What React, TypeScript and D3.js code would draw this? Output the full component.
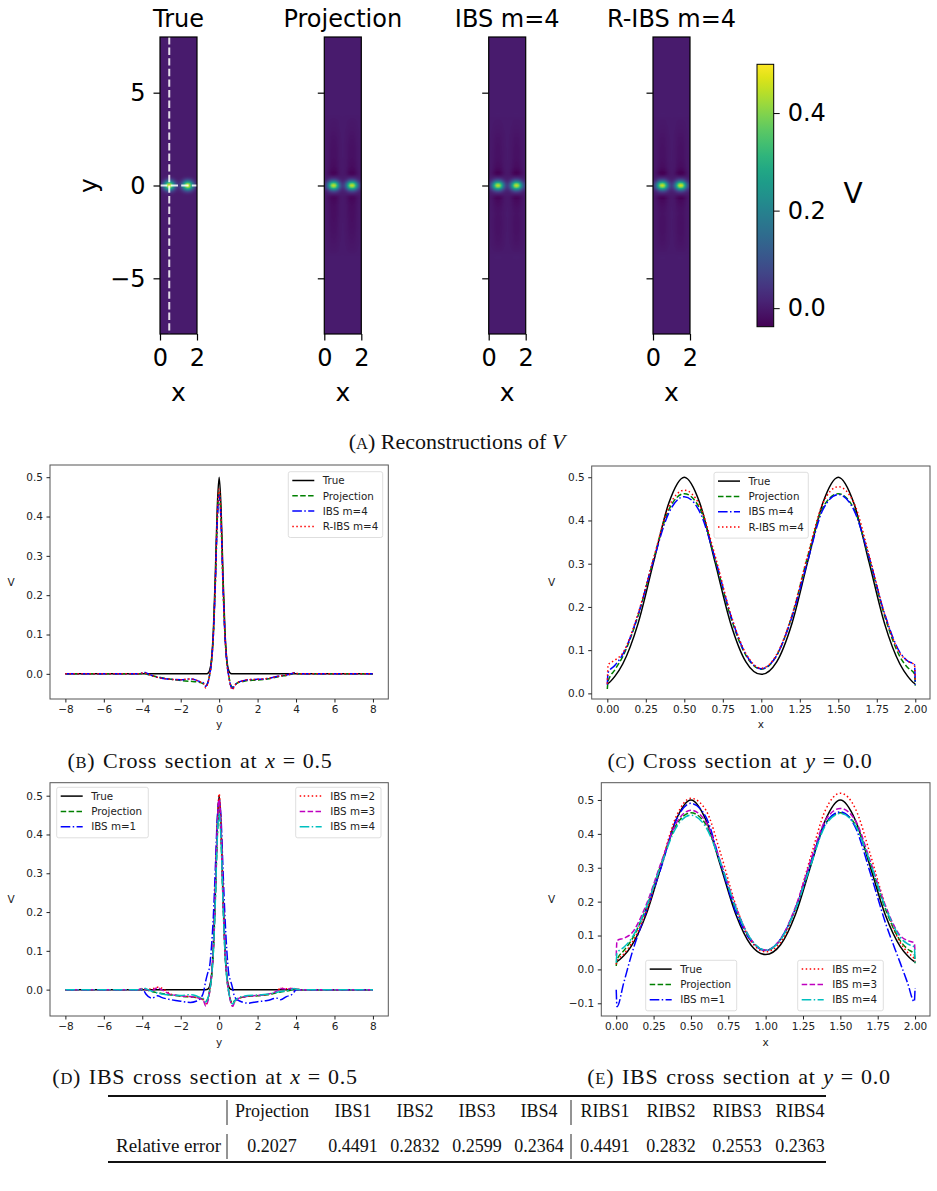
"use client";

import * as d3 from "d3";
import { useEffect, useRef } from "react";

// cross sections along y at x = 0.5
const ys = [-8, -4.2, -4, -3.9, -3.8, -3.5, -3.2, -3, -2.5, -2, -1.5, -1.2, -1, -0.8, -0.7, -0.6, -0.5, -0.4, -0.3, -0.2, -0.1, 0, 0.1, 0.2, 0.3, 0.4, 0.5, 0.6, 0.7, 0.8, 1, 1.2, 1.5, 2, 2.5, 3, 3.2, 3.5, 3.8, 3.9, 4, 4.2, 8];
const trueY = [0, 0, 0, 0, 0, 0, 0, 0, 0, 0, 0, 0, 0, 0, 0, 0.001, 0.008, 0.035, 0.11, 0.25, 0.42, 0.5, 0.42, 0.25, 0.11, 0.035, 0.008, 0.001, 0, 0, 0, 0, 0, 0, 0, 0, 0, 0, 0, 0, 0, 0, 0];
const projY = [0, 0, 0.001, 0.002, 0, -0.005, -0.008, -0.01, -0.014, -0.017, -0.019, -0.02, -0.022, -0.026, -0.03, -0.024, -0.004, 0.03, 0.1, 0.23, 0.39, 0.462, 0.39, 0.23, 0.1, 0.03, -0.005, -0.028, -0.034, -0.029, -0.022, -0.02, -0.017, -0.016, -0.013, -0.008, -0.006, -0.004, 0, 0.002, 0.001, 0, 0];
const ibs1Y = [0, 0, 0, -0.004, -0.012, -0.022, -0.016, -0.02, -0.026, -0.03, -0.033, -0.03, -0.024, -0.004, 0.022, 0.042, 0.058, 0.11, 0.19, 0.31, 0.44, 0.49, 0.44, 0.31, 0.19, 0.1, 0.04, 0.022, 0.004, -0.018, -0.028, -0.032, -0.035, -0.031, -0.028, -0.022, -0.026, -0.018, -0.012, -0.006, 0, 0, 0];
const ibs2Y = [0, 0, 0.002, 0.003, 0.001, 0.002, 0.006, 0.004, -0.012, -0.016, -0.018, -0.02, -0.022, -0.028, -0.04, -0.03, -0.006, 0.035, 0.11, 0.25, 0.42, 0.505, 0.42, 0.25, 0.11, 0.035, -0.006, -0.03, -0.042, -0.032, -0.022, -0.02, -0.017, -0.015, -0.013, -0.005, 0.004, 0.002, 0.003, 0.002, 0.001, 0, 0];
const ibs3Y = [0, 0, 0.003, 0.002, 0, -0.002, 0.005, 0, -0.013, -0.016, -0.018, -0.02, -0.023, -0.03, -0.042, -0.032, -0.007, 0.033, 0.105, 0.245, 0.41, 0.49, 0.41, 0.245, 0.105, 0.033, -0.007, -0.032, -0.043, -0.033, -0.023, -0.02, -0.017, -0.015, -0.012, -0.004, 0.003, 0.001, 0.003, 0.002, 0.001, 0, 0];
const ibs4Y = [0, 0, 0.002, 0.004, 0.002, -0.004, -0.009, -0.011, -0.014, -0.015, -0.013, -0.016, -0.02, -0.024, -0.032, -0.024, -0.004, 0.03, 0.1, 0.225, 0.385, 0.455, 0.385, 0.225, 0.1, 0.03, -0.006, -0.03, -0.037, -0.03, -0.021, -0.018, -0.015, -0.014, -0.012, -0.007, -0.005, -0.003, 0.001, 0.003, 0.001, 0, 0];
const ribs4Y = [0, 0, 0.002, 0.003, 0.001, -0.004, -0.009, -0.011, -0.014, -0.015, -0.013, -0.016, -0.02, -0.025, -0.036, -0.026, -0.005, 0.03, 0.1, 0.23, 0.395, 0.47, 0.395, 0.23, 0.1, 0.03, -0.007, -0.032, -0.04, -0.031, -0.021, -0.018, -0.015, -0.014, -0.012, -0.007, -0.005, -0.003, 0.001, 0.003, 0.001, 0, 0];

// cross sections along x at y = 0
const xs = [0, 0.005, 0.05, 0.1, 0.2, 0.3, 0.4, 0.5, 0.6, 0.7, 0.8, 0.9, 1, 1.1, 1.2, 1.3, 1.4, 1.5, 1.6, 1.7, 1.8, 1.9, 1.95, 1.995, 2];
const trueX = [0.022, 0.023, 0.04, 0.068, 0.162, 0.303, 0.441, 0.5, 0.441, 0.303, 0.163, 0.073, 0.044, 0.073, 0.163, 0.303, 0.441, 0.5, 0.441, 0.303, 0.162, 0.068, 0.04, 0.023, 0.022];
const projX = [0.01, 0.028, 0.055, 0.085, 0.18, 0.31, 0.425, 0.462, 0.428, 0.31, 0.178, 0.088, 0.056, 0.088, 0.18, 0.315, 0.43, 0.462, 0.428, 0.312, 0.18, 0.085, 0.06, 0.045, 0.018];
const ibs1X = [-0.06, -0.11, -0.04, 0.04, 0.17, 0.3, 0.44, 0.49, 0.45, 0.31, 0.17, 0.085, 0.056, 0.09, 0.18, 0.31, 0.43, 0.465, 0.42, 0.285, 0.14, 0.02, -0.04, -0.095, -0.055];
const ibs2X = [0.015, 0.025, 0.045, 0.075, 0.17, 0.31, 0.45, 0.505, 0.47, 0.34, 0.19, 0.085, 0.052, 0.08, 0.18, 0.33, 0.47, 0.52, 0.475, 0.34, 0.19, 0.08, 0.05, 0.03, 0.02];
const ibs3X = [0.04, 0.085, 0.092, 0.105, 0.19, 0.315, 0.43, 0.47, 0.435, 0.315, 0.185, 0.09, 0.057, 0.09, 0.185, 0.32, 0.44, 0.475, 0.44, 0.32, 0.19, 0.1, 0.085, 0.078, 0.05];
const ibs4X = [0.02, 0.048, 0.065, 0.09, 0.182, 0.308, 0.418, 0.455, 0.42, 0.312, 0.182, 0.09, 0.057, 0.088, 0.178, 0.305, 0.425, 0.46, 0.425, 0.315, 0.185, 0.095, 0.075, 0.066, 0.02];
const ribs4X = [0.022, 0.066, 0.077, 0.093, 0.185, 0.312, 0.432, 0.47, 0.435, 0.318, 0.185, 0.092, 0.058, 0.09, 0.182, 0.318, 0.44, 0.478, 0.442, 0.32, 0.185, 0.093, 0.075, 0.066, 0.03];

const heatTitles = ["True", "Projection", "IBS m=4", "R-IBS m=4"];
const colorDomain = [-0.038, 0.5];
const colorTicks = [0, 0.2, 0.4];

const tableHeads = ["Projection", "IBS1", "IBS2", "IBS3", "IBS4", "RIBS1", "RIBS2", "RIBS3", "RIBS4"];
const tableErrors = ["0.2027", "0.4491", "0.2832", "0.2599", "0.2364", "0.4491", "0.2832", "0.2553", "0.2363"];

const width = 937;
const height = 1191;
const sans = "DejaVu Sans";
const serif = "Liberation Serif";

const solid = null;
const dashed = "5.5,2.4";
const dotted = "1.5,2.5";
const dashdot = "9.6,2.4,1.5,2.4";

type Series = { values: number[]; color: string; dash: string | null; label: string };
type Legend = { x: number; y: number; w: number; items: number[] };
type Panel = {
  left: number; right: number; top: number; bottom: number;
  xDomain: number[]; yDomain: number[];
  xTicks: number[]; yTicks: number[];
  xFormat: (d: number) => string; yFormat: (d: number) => string;
  xLabel: string; xLabelY: number; vX: number;
  grid: number[]; series: Series[]; legends: Legend[];
};

const yT = [0, 0.1, 0.2, 0.3, 0.4, 0.5];

const panels: Panel[] = [
  {
    left: 50, right: 388.3, top: 465, bottom: 699,
    xDomain: [-8.8, 8.8], yDomain: [-0.064, 0.531],
    xTicks: d3.range(-8, 9, 2), yTicks: yT,
    xFormat: d3.format("d"), yFormat: d3.format(".1f"),
    xLabel: "y", xLabelY: 728, vX: 11, grid: ys,
    series: [
      { values: trueY, color: "#000000", dash: solid, label: "True" },
      { values: projY, color: "#008000", dash: dashed, label: "Projection" },
      { values: ibs4Y, color: "#0000ff", dash: dashdot, label: "IBS m=4" },
      { values: ribs4Y, color: "#ff0000", dash: dotted, label: "R-IBS m=4" },
    ],
    legends: [{ x: 288.3, y: 471.7, w: 94.4, items: [0, 1, 2, 3] }],
  },
  {
    left: 591.7, right: 930, top: 466, bottom: 699,
    xDomain: [-0.1014, 2.0955], yDomain: [-0.013, 0.526],
    xTicks: d3.range(0, 2.01, 0.25), yTicks: yT,
    xFormat: d3.format(".2f"), yFormat: d3.format(".1f"),
    xLabel: "x", xLabelY: 728, vX: 551.7, grid: xs,
    series: [
      { values: trueX, color: "#000000", dash: solid, label: "True" },
      { values: projX, color: "#008000", dash: dashed, label: "Projection" },
      { values: ibs4X, color: "#0000ff", dash: dashdot, label: "IBS m=4" },
      { values: ribs4X, color: "#ff0000", dash: dotted, label: "R-IBS m=4" },
    ],
    legends: [{ x: 714, y: 472.3, w: 94.3, items: [0, 1, 2, 3] }],
  },
  {
    left: 50, right: 388.3, top: 782.7, bottom: 1016,
    xDomain: [-8.8, 8.8], yDomain: [-0.068, 0.5335],
    xTicks: d3.range(-8, 9, 2), yTicks: yT,
    xFormat: d3.format("d"), yFormat: d3.format(".1f"),
    xLabel: "y", xLabelY: 1046, vX: 11, grid: ys,
    series: [
      { values: trueY, color: "#000000", dash: solid, label: "True" },
      { values: projY, color: "#008000", dash: dashed, label: "Projection" },
      { values: ibs1Y, color: "#0000ff", dash: dashdot, label: "IBS m=1" },
      { values: ibs2Y, color: "#ff0000", dash: dotted, label: "IBS m=2" },
      { values: ibs3Y, color: "#bf00bf", dash: dashed, label: "IBS m=3" },
      { values: ibs4Y, color: "#00bfbf", dash: dashdot, label: "IBS m=4" },
    ],
    legends: [
      { x: 56.7, y: 787.3, w: 91.6, items: [0, 1, 2] },
      { x: 295.7, y: 787.3, w: 85.3, items: [3, 4, 5] },
    ],
  },
  {
    left: 601.3, right: 930, top: 782.7, bottom: 1016,
    xDomain: [-0.1, 2.1], yDomain: [-0.1375, 0.551],
    xTicks: d3.range(0, 2.01, 0.25), yTicks: [-0.1, 0, 0.1, 0.2, 0.3, 0.4, 0.5],
    xFormat: d3.format(".2f"), yFormat: d3.format(".1f"),
    xLabel: "x", xLabelY: 1046, vX: 551.7, grid: xs,
    series: [
      { values: trueX, color: "#000000", dash: solid, label: "True" },
      { values: projX, color: "#008000", dash: dashed, label: "Projection" },
      { values: ibs1X, color: "#0000ff", dash: dashdot, label: "IBS m=1" },
      { values: ibs2X, color: "#ff0000", dash: dotted, label: "IBS m=2" },
      { values: ibs3X, color: "#bf00bf", dash: dashed, label: "IBS m=3" },
      { values: ibs4X, color: "#00bfbf", dash: dashdot, label: "IBS m=4" },
    ],
    legends: [
      { x: 645.7, y: 960.3, w: 91, items: [0, 1, 2] },
      { x: 797.7, y: 960.3, w: 85.6, items: [3, 4, 5] },
    ],
  },
];

type Sel = d3.Selection<SVGSVGElement, unknown, null, undefined>;

function drawHeatmaps(svg: Sel) {
  const lefts = [160, 324.3, 488.7, 653];
  const w = 37;
  const top = 37;
  const bottom = 334;
  const fields = [
    [trueX, trueY],
    [projX, projY],
    [ibs4X, ibs4Y],
    [ribs4X, ribs4Y],
  ];
  const color = d3.scaleSequential(d3.interpolateViridis).domain(colorDomain as [number, number]);

  fields.forEach(([fx, fy], k) => {
    const x = d3.scaleLinear().domain([0, 2]).range([lefts[k], lefts[k] + w]);
    const y = d3.scaleLinear().domain([-8, 8]).range([bottom, top]);
    const px = d3.scaleLinear().domain(xs).range(fx).clamp(true);
    const py = d3.scaleLinear().domain(ys).range(fy).clamp(true);
    const peak = py(0);

    const W = w * 3;
    const H = Math.round((bottom - top) * 3);
    const canvas = document.createElement("canvas");
    canvas.width = W;
    canvas.height = H;
    const ctx = canvas.getContext("2d")!;
    const img = ctx.createImageData(W, H);
    for (let j = 0; j < H; j++) {
      const yv = y.invert(top + (j + 0.5) / 3);
      const vy = py(yv) / peak;
      for (let i = 0; i < W; i++) {
        const xv = x.invert(lefts[k] + (i + 0.5) / 3);
        const c = d3.rgb(color(px(xv) * vy));
        const o = (j * W + i) * 4;
        img.data[o] = c.r;
        img.data[o + 1] = c.g;
        img.data[o + 2] = c.b;
        img.data[o + 3] = 255;
      }
    }
    ctx.putImageData(img, 0, 0);

    const g = svg.append("g");
    g.append("image")
      .attr("href", canvas.toDataURL())
      .attr("x", lefts[k])
      .attr("y", top)
      .attr("width", w)
      .attr("height", bottom - top)
      .attr("preserveAspectRatio", "none");

    if (k === 0) {
      g.append("line")
        .attr("x1", x(0.5)).attr("x2", x(0.5))
        .attr("y1", top).attr("y2", bottom)
        .attr("stroke", "#ffffff").attr("stroke-opacity", 0.85)
        .attr("stroke-width", 2).attr("stroke-dasharray", "7.4,3.2");
      g.append("line")
        .attr("x1", lefts[k]).attr("x2", lefts[k] + w)
        .attr("y1", y(0)).attr("y2", y(0))
        .attr("stroke", "#ffffff").attr("stroke-opacity", 0.85)
        .attr("stroke-width", 2).attr("stroke-dasharray", "7.4,3.2");
    }

    g.append("rect")
      .attr("x", lefts[k]).attr("y", top)
      .attr("width", w).attr("height", bottom - top)
      .attr("fill", "none").attr("stroke", "#000").attr("stroke-width", 1.2);

    g.append("g")
      .attr("transform", `translate(${lefts[k]},0)`)
      .call(
        d3.axisLeft(y).tickValues([-5, 0, 5]).tickSize(6.5).tickPadding(8)
          .tickFormat((d) => (k === 0 ? d3.format("d")(d as number) : ""))
      )
      .call((a) => a.select(".domain").remove())
      .attr("font-family", sans).attr("font-size", 24).attr("color", "#000")
      .call((a) => a.selectAll("line").attr("stroke-width", 1.2));

    g.append("g")
      .attr("transform", `translate(0,${bottom})`)
      .call(d3.axisBottom(x).tickValues([0, 2]).tickSize(6.5).tickPadding(8).tickFormat(d3.format("d")))
      .call((a) => a.select(".domain").remove())
      .attr("font-family", sans).attr("font-size", 24).attr("color", "#000")
      .call((a) => a.selectAll("line").attr("stroke-width", 1.2));

    g.append("text")
      .attr("x", lefts[k] + w / 2).attr("y", 27)
      .attr("text-anchor", "middle")
      .attr("font-family", sans).attr("font-size", 24)
      .text(heatTitles[k]);

    g.append("text")
      .attr("x", lefts[k] + w / 2).attr("y", 401)
      .attr("text-anchor", "middle")
      .attr("font-family", sans).attr("font-size", 25)
      .text("x");
  });

  svg.append("text")
    .attr("transform", "translate(97,185.7) rotate(-90)")
    .attr("text-anchor", "middle")
    .attr("font-family", sans).attr("font-size", 25)
    .text("y");

  // colorbar
  const cb = { x: 757, w: 16.7, top: 64.3, bottom: 326.7 };
  const cy = d3.scaleLinear().domain(colorDomain).range([cb.bottom, cb.top]);
  const grad = svg.append("defs").append("linearGradient")
    .attr("id", "cbar").attr("x1", 0).attr("y1", 0).attr("x2", 0).attr("y2", 1);
  d3.range(0, 1.0001, 0.05).forEach((o) => {
    grad.append("stop")
      .attr("offset", o)
      .attr("stop-color", color(cy.invert(cb.top + o * (cb.bottom - cb.top))));
  });
  svg.append("rect")
    .attr("x", cb.x).attr("y", cb.top)
    .attr("width", cb.w).attr("height", cb.bottom - cb.top)
    .attr("fill", "url(#cbar)").attr("stroke", "#000").attr("stroke-width", 1);
  svg.append("g")
    .attr("transform", `translate(${cb.x + cb.w},0)`)
    .call(d3.axisRight(cy).tickValues(colorTicks).tickSize(6).tickPadding(8).tickFormat(d3.format(".1f")))
    .call((a) => a.select(".domain").remove())
    .attr("font-family", sans).attr("font-size", 24).attr("color", "#000");
  svg.append("text")
    .attr("x", 853).attr("y", 203)
    .attr("text-anchor", "middle")
    .attr("font-family", sans).attr("font-size", 28)
    .text("V");
}

function drawLinePanel(svg: Sel, p: Panel) {
  const x = d3.scaleLinear().domain(p.xDomain).range([p.left, p.right]);
  const y = d3.scaleLinear().domain(p.yDomain).range([p.bottom, p.top]);
  const g = svg.append("g");

  const line = d3
    .line<[number, number]>()
    .x((d) => x(d[0]))
    .y((d) => y(d[1]))
    .curve(d3.curveMonotoneX);

  p.series.forEach((s) => {
    g.append("path")
      .attr("d", line(p.grid.map((v, i) => [v, s.values[i]] as [number, number])))
      .attr("fill", "none")
      .attr("stroke", s.color)
      .attr("stroke-width", 1.5)
      .attr("stroke-dasharray", s.dash);
  });

  g.append("rect")
    .attr("x", p.left).attr("y", p.top)
    .attr("width", p.right - p.left).attr("height", p.bottom - p.top)
    .attr("fill", "none").attr("stroke", "#555").attr("stroke-width", 1);

  g.append("g")
    .attr("transform", `translate(0,${p.bottom})`)
    .call(d3.axisBottom(x).tickValues(p.xTicks).tickSize(3.5).tickPadding(3.5).tickFormat((d) => p.xFormat(d as number)))
    .call((a) => a.select(".domain").remove())
    .attr("font-family", sans).attr("font-size", 10.5).attr("color", "#222");

  g.append("g")
    .attr("transform", `translate(${p.left},0)`)
    .call(d3.axisLeft(y).tickValues(p.yTicks).tickSize(3.5).tickPadding(3.5).tickFormat((d) => p.yFormat(d as number)))
    .call((a) => a.select(".domain").remove())
    .attr("font-family", sans).attr("font-size", 10.5).attr("color", "#222");

  g.append("text")
    .attr("x", (p.left + p.right) / 2).attr("y", p.xLabelY)
    .attr("text-anchor", "middle")
    .attr("font-family", sans).attr("font-size", 10.5).attr("fill", "#222")
    .text(p.xLabel);

  g.append("text")
    .attr("x", p.vX).attr("y", (p.top + p.bottom) / 2 + 3.8)
    .attr("text-anchor", "middle")
    .attr("font-family", sans).attr("font-size", 10.5).attr("fill", "#222")
    .text("V");

  p.legends.forEach((L) => {
    const lg = g.append("g");
    const step = 15.3;
    lg.append("rect")
      .attr("x", L.x).attr("y", L.y)
      .attr("width", L.w).attr("height", 2 + L.items.length * step + 2.6)
      .attr("rx", 2)
      .attr("fill", "#fff").attr("fill-opacity", 0.8)
      .attr("stroke", "#d5d5d5").attr("stroke-width", 0.8);
    L.items.forEach((idx, i) => {
      const s = p.series[idx];
      const cy = L.y + 8.8 + i * step;
      lg.append("line")
        .attr("x1", L.x + 4).attr("x2", L.x + 26)
        .attr("y1", cy).attr("y2", cy)
        .attr("stroke", s.color).attr("stroke-width", 1.5)
        .attr("stroke-dasharray", s.dash);
      lg.append("text")
        .attr("x", L.x + 34.5).attr("y", cy).attr("dy", "0.36em")
        .attr("font-family", sans).attr("font-size", 10.3).attr("fill", "#222")
        .text(s.label);
    });
  });
}

function caption(svg: Sel, cx: number, y: number, letter: string, text: string, math?: [string, string]) {
  const t = svg.append("text")
    .attr("x", cx).attr("y", y)
    .attr("text-anchor", "middle")
    .attr("font-family", serif).attr("font-size", 22).attr("fill", "#111")
    .attr("letter-spacing", math ? 0.75 : 0)
    .attr("word-spacing", math ? 1.5 : 0);
  t.append("tspan").text("(");
  t.append("tspan").attr("font-size", 16.5).text(letter);
  t.append("tspan").text(") " + text);
  if (math) {
    t.append("tspan").attr("font-style", "italic").text(math[0]);
    t.append("tspan").attr("dx", 7).text("=");
    t.append("tspan").attr("dx", 7).text(math[1]);
  }
  return t;
}

function drawCaptions(svg: Sel) {
  const a = caption(svg, 457, 449, "A", "Reconstructions of ");
  a.append("tspan").attr("font-style", "italic").text("V");
  caption(svg, 200, 768, "B", "Cross section at ", ["x", "0.5"]);
  caption(svg, 740, 768, "C", "Cross section at ", ["y", "0.0"]);
  caption(svg, 205, 1084, "D", "IBS cross section at ", ["x", "0.5"]);
  caption(svg, 739, 1084, "E", "IBS cross section at ", ["y", "0.0"]);
}

function drawTable(svg: Sel) {
  const cols = [272, 353, 415, 477, 539, 605, 671, 737, 800];
  const g = svg.append("g").attr("font-family", serif).attr("font-size", 18).attr("fill", "#111");
  g.append("line").attr("x1", 108).attr("x2", 826).attr("y1", 1096).attr("y2", 1096).attr("stroke", "#111").attr("stroke-width", 1.8);
  g.append("line").attr("x1", 108).attr("x2", 826).attr("y1", 1162).attr("y2", 1162).attr("stroke", "#111").attr("stroke-width", 1.8);
  [227, 571].forEach((vx) => {
    g.append("line").attr("x1", vx).attr("x2", vx).attr("y1", 1100).attr("y2", 1125).attr("stroke", "#111").attr("stroke-width", 0.9);
    g.append("line").attr("x1", vx).attr("x2", vx).attr("y1", 1134).attr("y2", 1159).attr("stroke", "#111").attr("stroke-width", 0.9);
  });
  tableHeads.forEach((h, i) => {
    g.append("text").attr("x", cols[i]).attr("y", 1117).attr("text-anchor", "middle").text(h);
  });
  g.append("text").attr("x", 221).attr("y", 1152).attr("text-anchor", "end").attr("font-size", 19).text("Relative error");
  tableErrors.forEach((v, i) => {
    g.append("text").attr("x", cols[i]).attr("y", 1152).attr("text-anchor", "middle").text(v);
  });
}

export default function App() {
  const svgRef = useRef<SVGSVGElement>(null);

  useEffect(() => {
    if (!svgRef.current) return;
    const svg = d3.select(svgRef.current);
    drawHeatmaps(svg);
    panels.forEach((p) => drawLinePanel(svg, p));
    drawCaptions(svg);
    drawTable(svg);

    return () => {
      svg.selectAll("*").remove();
    };
  }, []);

  return (
    <svg
      ref={svgRef}
      width={width}
      height={height}
      style={{ position: "absolute", left: 0, top: 0, background: "#fff" }}
    />
  );
}
